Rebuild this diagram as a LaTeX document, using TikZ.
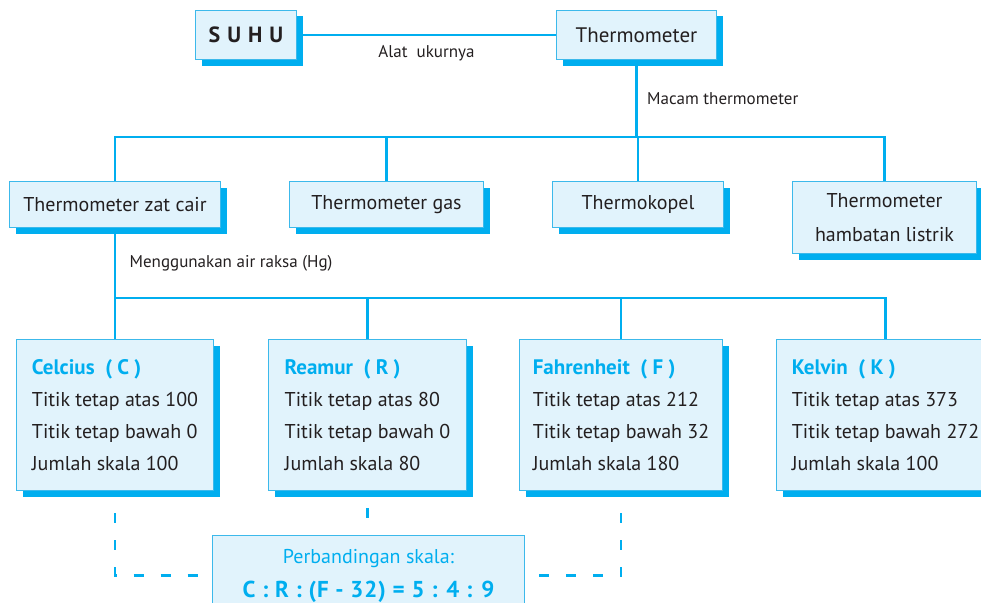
\documentclass[tikz,border=0pt]{standalone}
\usepackage{fontspec}
\setmainfont{PT Sans}
\usetikzlibrary{positioning, shadows}
\definecolor{lineblue}{RGB}{0,174,239}
\definecolor{boxfill}{RGB}{225,243,252}
\definecolor{boxedge}{RGB}{60,185,235}
\definecolor{txt}{RGB}{35,31,32}
\newcommand{\judul}[1]{{\bfseries\fontsize{21}{32}\selectfont\color{lineblue}#1}}

\begin{document}
\begin{tikzpicture}[x=1pt, y=-1pt, node distance=68pt,
    box/.style={draw=boxedge, line width=1pt, fill=boxfill, text=txt,
      font=\fontsize{20}{26}\selectfont, inner sep=0pt,
      drop shadow={shadow xshift=6pt, shadow yshift=-6pt,
                   fill=lineblue, opacity=1}},
    skala/.style={box, align=left, minimum height=151pt,
      font=\fontsize{20}{32}\selectfont},
    link/.style={draw=lineblue, line width=2.6pt},
    dashlink/.style={link, dash pattern=on 10pt off 17pt},
    lbl/.style={text=txt, font=\fontsize{17}{20}\selectfont}]
  \useasboundingbox (0,0) rectangle (981,602);

  % top
  \node[box, anchor=north west, minimum width=101pt, minimum height=49pt,
        font=\bfseries\fontsize{22}{24}\selectfont] (suhu) at (195,10)
    {S\hspace{7pt}U\hspace{7pt}H\hspace{7pt}U};
  \node[box, anchor=north west, minimum width=160pt, minimum height=49pt,
        font=\fontsize{21}{26}\selectfont]
    (thermo) at (556,10) {Thermometer};

  % macam thermometer
  \node[box, anchor=north west, minimum width=211pt, minimum height=46pt]
    (zat) at (9,181) {Thermometer zat cair};
  \node[box, minimum width=194pt, minimum height=46pt, right=of zat]
    (gas) {Thermometer gas};
  \node[box, minimum width=171pt, minimum height=46pt, right=of gas]
    (kopel) {Thermokopel};
  \node[box, minimum width=184pt, minimum height=72pt, align=center,
        font=\fontsize{20}{34}\selectfont,
        right=of kopel.north east, anchor=north west]
    (ham) {Thermometer\\hambatan listrik};

  % skala
  \node[skala, minimum width=197pt, anchor=north west] (cel) at (16,339)
    {\judul{Celcius\ \ ( C )}\\
     Titik tetap atas 100\\Titik tetap bawah 0\\Jumlah skala 100};
  \node[skala, minimum width=198pt, right=54pt of cel.north east,
        anchor=north west] (rea)
    {\judul{Reamur\ \ ( R )}\\
     Titik tetap atas 80\\Titik tetap bawah 0\\Jumlah skala 80};
  \node[skala, minimum width=203pt, right=52pt of rea.north east,
        anchor=north west] (fah)
    {\judul{Fahrenheit\ \ ( F )}\\
     Titik tetap atas 212\\Titik tetap bawah 32\\Jumlah skala 180};
  \node[skala, minimum width=218pt, right=53pt of fah.north east,
        anchor=north west] (kel)
    {\judul{Kelvin\ \ ( K )}\\
     Titik tetap atas 373\\Titik tetap bawah 272\\Jumlah skala 100};

  \node[draw=boxedge, line width=1pt, fill=boxfill, text=lineblue,
        align=center, minimum width=312pt, minimum height=80pt,
        anchor=north west, font=\fontsize{20}{34}\selectfont]
    (ratio) at (212,535)
    {Perbandingan skala:\\{\bfseries\fontsize{23}{34}\selectfont
     \addfontfeatures{LetterSpace=4}C : R : (F - 32) = 5 : 4 : 9}};

  \coordinate (bus1) at (0,137);
  \coordinate (bus2) at (0,298);

  \draw[link] (suhu) -- node[lbl, below=6pt] {Alat\ \ ukurnya} (thermo);
  \draw[link] (thermo.south) -- node[lbl, right=6pt] {Macam thermometer}
    (thermo.south |- bus1);
  \draw[link] (zat.north) -- (zat.north |- bus1) -| (ham.north);
  \draw[link] (gas.north) -- (gas.north |- bus1);
  \draw[link] (kopel.north) -- (kopel.north |- bus1);

  \draw[link] (zat.south) -- node[lbl, right=10pt]
    {Menggunakan air raksa (Hg)} (zat.south |- bus2);
  \draw[link] (cel.north) -- (cel.north |- bus2) -| (kel.north);
  \draw[link] (rea.north) -- (rea.north |- bus2);
  \draw[link] (fah.north) -- (fah.north |- bus2);

  \draw[dashlink, shorten <=22pt, shorten >=2pt] (cel.south) |- (ratio.west);
  \draw[dashlink, shorten <=22pt, shorten >=2pt] (fah.south) |- (ratio.east);
  \draw[dashlink, shorten <=17pt, shorten >=16pt]
    (rea.south) -- (rea.south |- ratio.north);
\end{tikzpicture}
\end{document}
